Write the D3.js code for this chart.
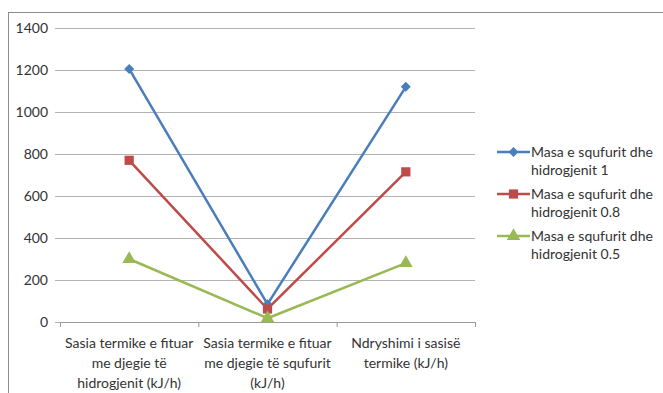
<!DOCTYPE html>
<html>
<head>
<meta charset="utf-8">
<script src="https://cdn.jsdelivr.net/npm/d3@7"></script>
<style>
  html, body { margin: 0; padding: 0; background: #fff; }
  svg { display: block; font-family: Lato, "Open Sans", sans-serif; }
</style>
</head>
<body>
<svg id="chart" width="663" height="393"></svg>
<script>
// Category labels (each split into display lines)
const categories = [
  ["Sasia termike e fituar", "me djegie të", "hidrogjenit (kJ/h)"],
  ["Sasia termike e fituar", "me djegie të squfurit", "(kJ/h)"],
  ["Ndryshimi i sasisë", "termike (kJ/h)"]
];
const seriesNames = [
  ["Masa e squfurit dhe", "hidrogjenit 1"],
  ["Masa e squfurit dhe", "hidrogjenit 0.8"],
  ["Masa e squfurit dhe", "hidrogjenit 0.5"]
];
const values1 = [1205, 85, 1120];
const values08 = [770, 62, 715];
const values05 = [300, 18, 280];
const yTicks = [0, 200, 400, 600, 800, 1000, 1200, 1400];

const colors = ["#4a7ebb", "#be4b48", "#98b954"];
// diamond drawn as a square turned 45 degrees
const markers = [d3.symbolSquare, d3.symbolSquare, d3.symbolTriangle];
const markerRot = [45, 0, 0];
const markerSizes = [50, 85, 80];
const series = [values1, values08, values05];

const svg = d3.select("#chart");
const plot = { left: 60, right: 475, top: 28, bottom: 322 };

// chart frame
svg.append("rect")
  .attr("x", 8.5).attr("y", 12.5)
  .attr("width", 700).attr("height", 400)
  .attr("fill", "none").attr("stroke", "#8c8c8c").attr("stroke-width", 1);

const x = d3.scaleBand().domain(d3.range(categories.length))
  .range([plot.left, plot.right]).padding(0);
const y = d3.scaleLinear().domain([0, 1400]).range([plot.bottom, plot.top]);

// horizontal gridlines
const yAxis = d3.axisLeft(y).tickValues(yTicks).tickFormat(d3.format("d"))
  .tickSize(-(plot.right - plot.left)).tickPadding(12);
const gy = svg.append("g").attr("transform", `translate(${plot.left},0)`).call(yAxis);
gy.select(".domain").remove();
gy.selectAll(".tick line").attr("stroke", "#b3b3b3").attr("stroke-width", 1)
  .attr("x1", -5);
gy.selectAll(".tick text").attr("font-size", 14).attr("fill", "#333")
  .attr("font-family", "Lato, sans-serif");

// category axis
const gx = svg.append("g").attr("transform", `translate(0,${plot.bottom})`);
gx.append("line").attr("x1", plot.left).attr("x2", plot.right)
  .attr("y1", 0.5).attr("y2", 0.5).attr("stroke", "#9a9a9a");
const bounds = d3.range(categories.length + 1).map(i =>
  i < categories.length ? x(i) : x(categories.length - 1) + x.bandwidth());
gx.selectAll("line.tk").data(bounds).join("line").attr("class", "tk")
  .attr("x1", d => d + 0.5).attr("x2", d => d + 0.5)
  .attr("y1", 0).attr("y2", 5).attr("stroke", "#9a9a9a");

categories.forEach((lines, i) => {
  const t = gx.append("text").attr("text-anchor", "middle")
    .attr("font-size", 14).attr("fill", "#333");
  lines.forEach((ln, j) => {
    t.append("tspan").attr("x", x(i) + x.bandwidth() / 2)
      .attr("y", 26 + j * 20).text(ln);
  });
});

// series lines and markers
const line = d3.line().x((d, i) => x(i) + x.bandwidth() / 2).y(d => y(d));
series.forEach((vals, s) => {
  svg.append("path").datum(vals).attr("d", line)
    .attr("fill", "none").attr("stroke", colors[s]).attr("stroke-width", 2.5)
    .attr("stroke-linejoin", "round");
});
series.forEach((vals, s) => {
  svg.selectAll(`path.m${s}`).data(vals).join("path").attr("class", `m${s}`)
    .attr("d", d3.symbol().type(markers[s]).size(markerSizes[s]))
    .attr("transform", (d, i) =>
      `translate(${x(i) + x.bandwidth() / 2},${y(d)}) rotate(${markerRot[s]})`)
    .attr("fill", colors[s]);
});

// legend
const legendY = [152, 194, 236];
seriesNames.forEach((lines, s) => {
  const g = svg.append("g").attr("transform", `translate(0,${legendY[s]})`);
  g.append("line").attr("x1", 497).attr("x2", 530).attr("y1", 0).attr("y2", 0)
    .attr("stroke", colors[s]).attr("stroke-width", 2.5);
  g.append("path").attr("d", d3.symbol().type(markers[s]).size(markerSizes[s]))
    .attr("transform", `translate(513.5,0) rotate(${markerRot[s]})`).attr("fill", colors[s]);
  const t = g.append("text").attr("font-size", 14).attr("fill", "#333");
  lines.forEach((ln, j) => {
    t.append("tspan").attr("x", 531).attr("y", 5 + j * 18).text(ln);
  });
});
</script>
</body>
</html>
